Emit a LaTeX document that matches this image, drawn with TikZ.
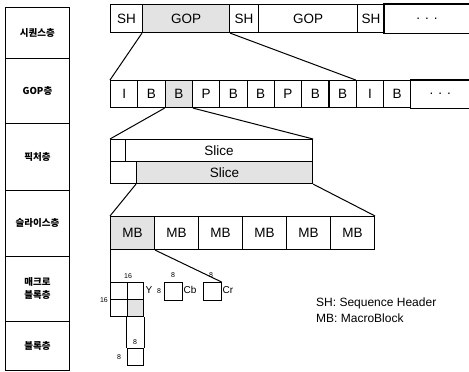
\documentclass[tikz,border=0pt]{standalone}
\usepackage{fontspec}
\setmainfont{Liberation Sans}
\newfontfamily\kr{Noto Sans CJK KR}
\begin{document}
\begin{tikzpicture}[x=1pt,y=-1pt,
  cell/.style={draw, line width=1.1pt, inner sep=0pt, anchor=north west, font=\fontsize{13.5}{15}\selectfont},
  shade/.style={fill=gray!22},
  lay/.style={draw, line width=0.8pt, inner sep=0pt, anchor=north west, minimum width=64pt, align=center, font=\kr\bfseries\fontsize{9.5}{13}\selectfont},
  conn/.style={line width=1pt},
  small/.style={font=\fontsize{7}{8}\selectfont, inner sep=0pt},
  lbl/.style={font=\fontsize{10}{11}\selectfont, inner sep=0pt}]
\useasboundingbox (0,0) rectangle (469,372);
% left column
\node[lay, minimum height=51pt] (L1) at (5,7) {시퀀스층};
\node[lay, minimum height=65pt] (L2) at (5,58) {GOP층};
\node[lay, minimum height=67pt] (L3) at (5,123) {픽처층};
\node[lay, minimum height=66pt] (L4) at (5,190) {슬라이스층};
\node[lay, minimum height=65pt] (L5) at (5,256) {매크로\\블록층};
\node[lay, minimum height=49pt] (L6) at (5,321) {블록층};
% sequence row
\node[cell, minimum width=32pt, minimum height=28pt] (sh1) at (110,4) {SH};
\node[cell, shade, minimum width=87pt, minimum height=28pt] (gop1) at (142,4) {GOP};
\node[cell, minimum width=29pt, minimum height=28pt] (sh2) at (229,4) {SH};
\node[cell, minimum width=99pt, minimum height=28pt] (gop2) at (258,4) {GOP};
\node[cell, minimum width=27pt, minimum height=28pt] (sh3) at (357,4) {SH};
\node[cell, draw=none, minimum width=85pt, minimum height=28pt] (dots1) at (384,4) {. . .};
\draw[line width=1.1pt] (dots1.north east) -- (dots1.north west) -- (dots1.south west) -- (dots1.south east);
% GOP row
\fill[gray!22] (164.6,80) rectangle (191.9,107);
\foreach \i/\t [count=\k from 0] in {g1/I,g2/B,g3/B,g4/P,g5/B,g6/B,g7/P,g8/B,g9/B,g10/I,g11/B} {
  \node[cell, minimum width=27.3pt, minimum height=27pt] (\i) at ({110+27.3*\k},80) {\t};
}
\node[cell, draw=none, minimum width=59pt, minimum height=27pt] (dots2) at (410.3,80) {. . .};
\draw[line width=1.1pt] (dots2.north east) -- (dots2.north west) -- (dots2.south west) -- (dots2.south east);
% picture row
\node[cell, minimum width=15pt, minimum height=22pt] (p1) at (110,139) {};
\node[cell, minimum width=187pt, minimum height=22pt] (slice1) at (125,139) {Slice};
\node[cell, minimum width=26pt, minimum height=22pt] (p2) at (110,161) {};
\node[cell, shade, minimum width=176pt, minimum height=22pt] (slice2) at (136,161) {Slice};
% MB row
\node[cell, shade, minimum width=44pt, minimum height=33pt] (mb1) at (110,216) {MB};
\foreach \k in {2,...,6} {
  \node[cell, minimum width=44pt, minimum height=33pt] (mb\k) at ({110+44*(\k-1)},216) {MB};
}
% macroblock
\node[cell, minimum width=16.5pt, minimum height=17pt] (ya) at (110,282) {};
\node[cell, minimum width=16.5pt, minimum height=17pt] (yb) at (126.5,282) {};
\node[cell, minimum width=16.5pt, minimum height=17pt] (yc) at (110,299) {};
\node[cell, shade, minimum width=16.5pt, minimum height=17pt] (yd) at (126.5,299) {};
\node[cell, minimum width=18pt, minimum height=18pt] (cb) at (164,282) {};
\node[cell, minimum width=17.5pt, minimum height=18pt] (cr) at (203,282) {};
% block
\node[cell, minimum width=16.5pt, minimum height=17pt] (blk) at (126.5,348) {};
% labels
\node[small] (n16a) at (128,276) {16};
\node[small] (n16b) at (104,300) {16};
\node[lbl] (ylab) at (149,290) {Y};
\node[small] (n8a) at (159,291) {8};
\node[small] (n8b) at (173,275) {8};
\node[lbl] (cblab) at (190,290) {Cb};
\node[small] (n8c) at (211,275) {8};
\node[lbl] (crlab) at (228,290) {Cr};
\node[small] (n8d) at (135,342) {8};
\node[small] (n8e) at (119,357) {8};
% legend
\node[anchor=north west, inner sep=0pt, align=left, font=\fontsize{12}{15.5}\selectfont] (legend) at (316,298) {SH: Sequence Header\\MB: MacroBlock};
% connectors
\draw[conn] (gop1.south west) -- (g1.north west);
\draw[conn] (gop1.south east) -- (g10.north west);
\draw[conn] (g3.south west) -- (p1.north west);
\draw[conn] (g3.south east) -- (slice1.north east);
\draw[conn] (slice2.south west) -- (mb1.north west);
\draw[conn] (slice2.south east) -- (mb6.north east);
\draw[conn] (mb1.south west) -- (ya.north west);
\draw[conn] (mb1.south east) -- (cr.north east);
\draw[conn] (yd.south west) -- (blk.north west);
\draw[conn] (yd.south east) -- (blk.north east);
\end{tikzpicture}
\end{document}
